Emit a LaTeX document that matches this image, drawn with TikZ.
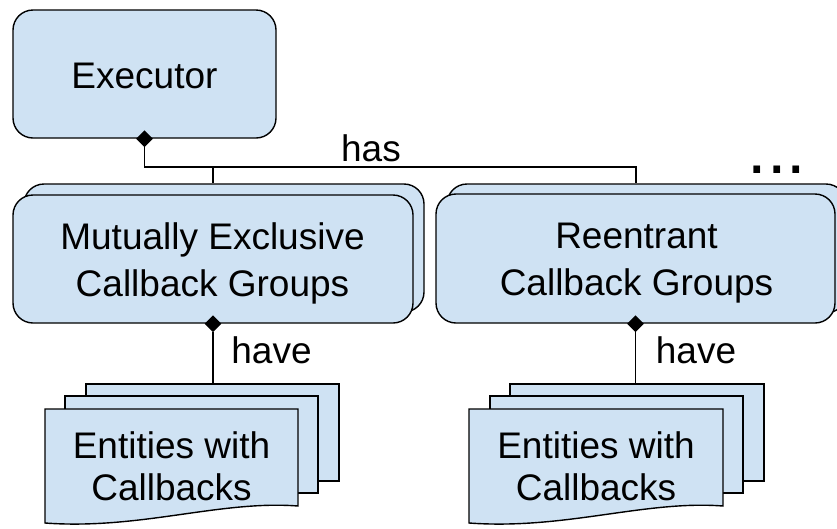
\documentclass[tikz,border=0pt]{standalone}
\usepackage{fontspec}
\setmainfont{Liberation Sans}
\usetikzlibrary{shapes.geometric}
\definecolor{boxblue}{HTML}{CFE2F3}
\begin{document}
\begin{tikzpicture}[x=1pt,y=-1pt,
  rbox/.style={draw=black,line width=1.4pt,fill=boxblue,rounded corners=20pt,inner sep=0pt,minimum height=128pt},
  pagebox/.style={draw=black,line width=1.4pt,fill=boxblue,inner sep=0pt,minimum width=253pt,minimum height=97pt},
  pagefront/.style={draw=black,line width=1.4pt,fill=boxblue},
  lbl/.style={font=\fontsize{37}{47}\selectfont,align=center,inner sep=0pt},
  plbl/.style={font=\fontsize{37}{42}\selectfont,align=center,inner sep=0pt},
  conn/.style={draw=black,line width=1.6pt},
  dia/.style={diamond,fill=black,inner sep=0pt,minimum width=17pt,minimum height=17pt}]
\clip (0,0) rectangle (837,528);
% Executor
\node[rbox,minimum width=263pt] (exec) at (144.5,74) {};
\node[lbl] (exect) at (144.5,75.6) {Executor};
% connectors from executor
\coordinate (busL) at (144.5,167);
\coordinate (busR) at (636,167);
% Mutually exclusive groups (stacked)
\node[rbox,minimum width=400pt] (mxback) at (224,248) {};
\node[rbox,minimum width=400pt] (mx) at (213,259) {};
\node[lbl] (mxt) at (212.5,263.6) {Mutually Exclusive\\Callback Groups};
% Reentrant groups (stacked)
\node[rbox,minimum width=399pt,minimum height=129pt] (reback) at (646.5,248.5) {};
\node[rbox,minimum width=399pt,minimum height=129pt] (re) at (635.5,258.5) {};
\node[lbl] (ret) at (636.5,263.6) {Reentrant\\Callback Groups};
% Entities left
\node[pagebox] (e1c) at (212.5,432.5) {};
\node[pagebox] (e1b) at (191.5,444.5) {};
\draw[pagefront] (45,409) -- (298,409) -- (298,506) .. controls (220,500) and (140,530) .. (45,523) -- cycle;
\node[plbl] (e1t) at (171.5,466.3) {Entities with\\Callbacks};
% Entities right
\node[pagebox,minimum width=254pt] (e2c) at (637,432.5) {};
\node[pagebox] (e2b) at (616.5,444.5) {};
\draw[pagefront] (469,409) -- (723,409) -- (723,506) .. controls (645,500) and (565,530) .. (469,523) -- cycle;
\node[plbl] (e2t) at (596,466.3) {Entities with\\Callbacks};
% diamonds
\node[dia] (d1) at (exec.south) {};
\node[dia] (d2) at (mx.south) {};
\node[dia] (d3) at (re.south) {};
% connectors
\draw[conn] (d1.south) -- (busL) -- (busR) -- (busR |- reback.north);
\draw[conn] (mx.north |- busL) -- (mx.north |- mxback.north);
\draw[conn] (d2.south) -- (d2.south |- e1c.north);
\draw[conn] (d3.south) -- (d3.south |- e2c.north);
% labels
\node[lbl,anchor=base] (has) at (371,161) {has};
\node[lbl,anchor=base] (have1) at (271.5,363) {have};
\node[lbl,anchor=base] (have2) at (696,363) {have};
\node[font=\fontsize{70}{70}\selectfont,inner sep=0pt,anchor=base] (more) at (777,173) {...};
\end{tikzpicture}
\end{document}
